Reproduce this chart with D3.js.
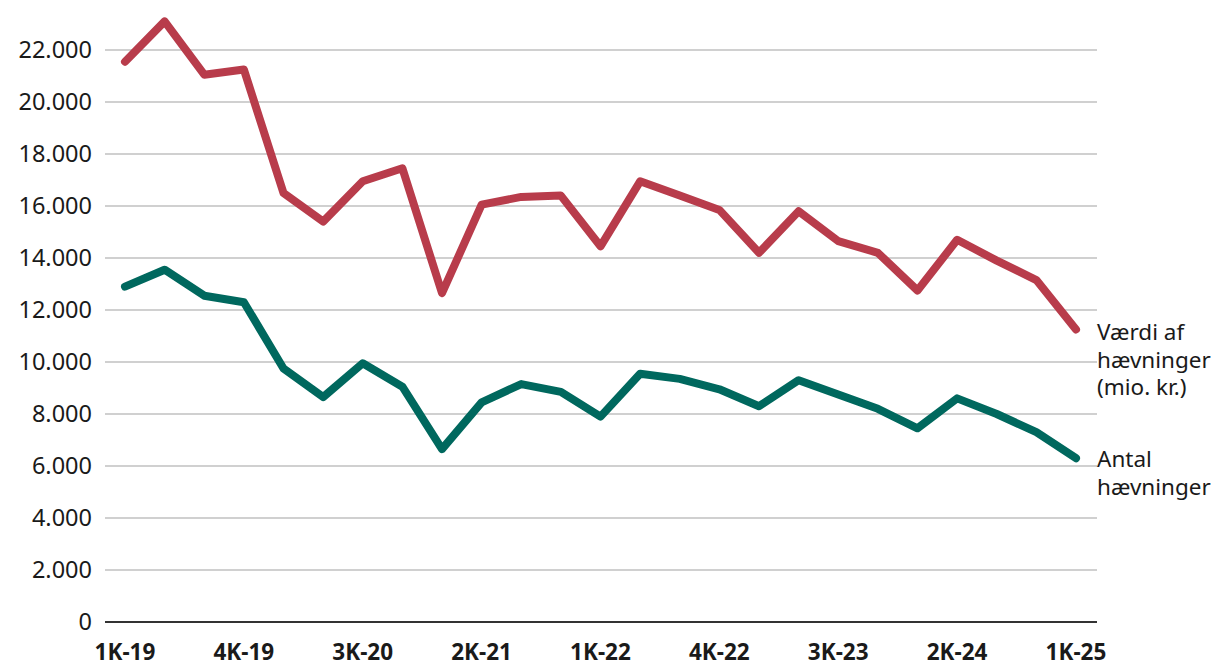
<!DOCTYPE html>
<html>
<head>
<meta charset="utf-8">
<script src="https://cdn.jsdelivr.net/npm/d3@7"></script>
<style>
  html, body { margin: 0; padding: 0; background: #fff; }
  svg { display: block; font-family: "Noto Sans", "Open Sans", sans-serif; }
</style>
</head>
<body>
<svg id="chart" width="1220" height="672"></svg>
<script>
const quarters = ["1K-19","2K-19","3K-19","4K-19","1K-20","2K-20","3K-20","4K-20",
  "1K-21","2K-21","3K-21","4K-21","1K-22","2K-22","3K-22","4K-22",
  "1K-23","2K-23","3K-23","4K-23","1K-24","2K-24","3K-24","4K-24","1K-25"];
const vaerdi = [21550,23100,21050,21250,16500,15400,16950,17450,
  12650,16050,16350,16400,14450,16950,16400,15850,
  14200,15800,14650,14200,12750,14700,13900,13150,11250];
const antal = [12900,13550,12550,12300,9750,8650,9950,9050,
  6650,8450,9150,8850,7900,9550,9350,8950,
  8300,9300,8750,8200,7450,8600,8000,7300,6300];
const tickLabels = ["1K-19","4K-19","3K-20","2K-21","1K-22","4K-22","3K-23","2K-24","1K-25"];
const yTicks = [0,2000,4000,6000,8000,10000,12000,14000,16000,18000,20000,22000];
const seriesNames = [["Værdi af","hævninger","(mio. kr.)"],["Antal","hævninger"]];
const colors = ["#b83c4b","#00685e"];

const svg = d3.select("#chart");
const x = d3.scalePoint().domain(quarters).range([125, 1076]);
const y = d3.scaleLinear().domain([0, 22000]).range([622, 50]);
const gridLeft = 105, gridRight = 1097;

svg.append("g").selectAll("line").data(yTicks.filter(d => d > 0)).join("line")
  .attr("x1", gridLeft).attr("x2", gridRight)
  .attr("y1", d => y(d)).attr("y2", d => y(d))
  .attr("stroke", "#c0c0c0").attr("stroke-width", 1.5);

const fmt = d => d === 0 ? "0" : d3.format(",")(d).replace(/,/g, ".");
svg.append("g").selectAll("text").data(yTicks).join("text")
  .attr("x", 92).attr("y", d => y(d)).attr("dy", "0.36em")
  .attr("text-anchor", "end").attr("font-size", 23.5).attr("fill", "#1a1a1a")
  .text(fmt);

svg.append("line").attr("x1", gridLeft).attr("x2", gridRight)
  .attr("y1", y(0)).attr("y2", y(0)).attr("stroke", "#333").attr("stroke-width", 2);

svg.append("g").selectAll("text").data(tickLabels).join("text")
  .attr("x", d => x(d)).attr("y", 660)
  .attr("text-anchor", "middle").attr("font-size", 22.5).attr("font-weight", "bold")
  .attr("fill", "#1a1a1a").text(d => d);

const line = d3.line().x((d, i) => x(quarters[i])).y(d => y(d));
[vaerdi, antal].forEach((s, k) => {
  svg.append("path").datum(s).attr("d", line)
    .attr("fill", "none").attr("stroke", colors[k]).attr("stroke-width", 8)
    .attr("stroke-linejoin", "round").attr("stroke-linecap", "round");
});

const labelY = [340, 467];
seriesNames.forEach((lines, k) => {
  svg.append("g").selectAll("text").data(lines).join("text")
    .attr("x", 1097).attr("y", (l, i) => labelY[k] + i * 27.5)
    .attr("font-size", 22.5).attr("fill", "#1a1a1a").text(l => l);
});
</script>
</body>
</html>
